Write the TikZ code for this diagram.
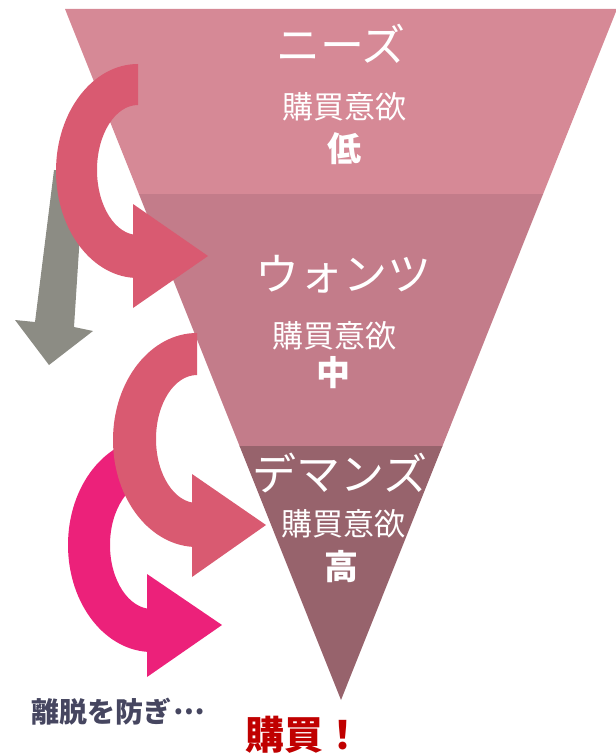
\documentclass[tikz,border=0pt]{standalone}
\usepackage{fontspec}
\setmainfont{Noto Sans CJK JP}
\definecolor{bandA}{RGB}{214,137,150}
\definecolor{bandB}{RGB}{195,124,138}
\definecolor{bandC}{RGB}{151,99,108}
\definecolor{arrowpink}{RGB}{217,90,113}
\definecolor{arrowmag}{RGB}{236,33,122}
\definecolor{arrowgray}{RGB}{140,140,132}
\definecolor{txtdark}{RGB}{70,70,96}
\definecolor{txtred}{RGB}{192,0,0}
\tikzset{
  kana/.style={text=white, inner sep=0pt, font=\fontsize{44}{48}\selectfont},
  yoku/.style={text=white, inner sep=0pt, font=\fontsize{31}{34}\selectfont},
  level/.style={text=white, inner sep=0pt, font=\bfseries\fontsize{34}{38}\selectfont},
}
\begin{document}
\begin{tikzpicture}[x=1pt,y=1pt,yscale=-1]
\useasboundingbox (0,0) rectangle (615,754);
% funnel
\begin{scope}
  \clip (65,9) -- (617,9) -- (341,700) -- cycle;
  \fill[bandA] (0,0) rectangle (620,194.5);
  \fill[bandB] (0,194) rectangle (620,446.5);
  \fill[bandC] (0,446) rectangle (620,754);
\end{scope}
% gray arrow
\fill[arrowgray] (54,170) -- (84,172) -- (74,327) -- (93,331) -- (49,365) -- (15,320) -- (35,322) -- cycle;
% arrow 1
\fill[arrowpink] (138,64) arc[start angle=270,end angle=90,x radius=82,y radius=107]
  -- (133,278) -- (133,308) -- (208,256) -- (133,204) -- (133,235) -- (138,235)
  arc[start angle=90,end angle=270,x radius=41,y radius=65] -- cycle;
% arrow 3 (magenta)
\fill[arrowmag] (152,438) arc[start angle=270,end angle=90,x radius=84,y radius=107]
  -- (147,652) -- (147,677) -- (222,625) -- (147,574) -- (147,609) -- (152,609)
  arc[start angle=90,end angle=270,x radius=42,y radius=64] -- cycle;
% arrow 2
\fill[arrowpink] (197,333) arc[start angle=270,end angle=90,x radius=84,y radius=107]
  -- (192,547) -- (192,577) -- (266,525) -- (192,474) -- (192,503) -- (197,503)
  arc[start angle=90,end angle=270,x radius=41,y radius=64] -- cycle;
% texts
\node[kana] (needs) at (341,44) {ニーズ};
\node[yoku] (y1) at (344,107) {購買意欲};
\node[level] (l1) at (344,149) {低};
\node[kana] (wants) at (343,274) {ウォンツ};
\node[yoku] (y2) at (334,336) {購買意欲};
\node[level] (l2) at (333,373) {中};
\node[kana] (demand) at (340,473) {デマンズ};
\node[yoku] (y3) at (343,524) {購買意欲};
\node[level] (l3) at (341,567) {高};
\node[text=txtdark, inner sep=0pt, anchor=west, font=\bfseries\fontsize{28}{30}\selectfont] (ridatsu) at (31,712) {離脱を防ぎ\kern2pt\raisebox{0.3em}{…}\rule{0pt}{0.8em}};
\node[text=txtred, inner sep=0pt, font=\bfseries\fontsize{39}{42}\selectfont] (kounyu) at (304,735) {購買！};
\end{tikzpicture}
\end{document}
